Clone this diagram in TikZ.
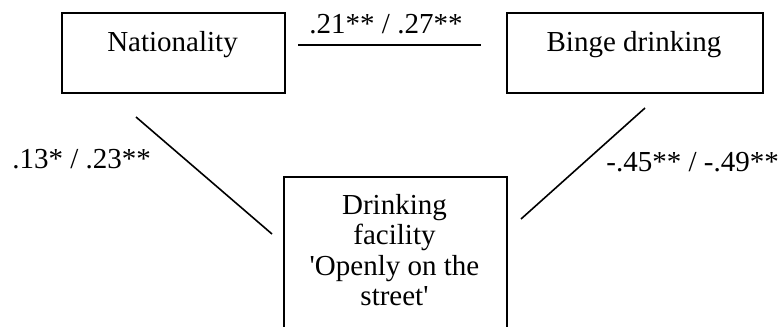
\documentclass[tikz,border=0pt]{standalone}
\usepackage{fontspec}
\setmainfont{Liberation Serif}[Ligatures=TeXOff]
\begin{document}
\begin{tikzpicture}[x=0.5pt,y=-0.5pt,
  box/.style={draw, line width=0.8pt, inner sep=0pt, anchor=north west},
  txt/.style={font=\fontsize{14.5}{15.2}\selectfont, inner sep=0pt},
  conn/.style={line width=0.8pt}]
\useasboundingbox (0,0) rectangle (780,326);
\begin{scope}
\clip (0,0) rectangle (780,326);
\node[box, minimum width=111.5pt, minimum height=40pt] (nat) at (61,12) {};
\node[box, minimum width=128pt, minimum height=40pt] (binge) at (506,12) {};
\node[box, minimum width=111.5pt, minimum height=80pt] (fac) at (283,176) {};
\end{scope}
\node[txt, anchor=base] (natt) at (172.5,52) {Nationality};
\node[txt, anchor=base] (bingt) at (634,52) {Binge drinking};
\node[txt, anchor=north, align=center] (fact) at (394.5,194) {Drinking\\facility\\'Openly on the\\street'};
% connectors
\coordinate (t1) at (298,45);
\coordinate (t2) at (481,45);
\coordinate (l1) at (136,117);
\coordinate (l2) at (272,234);
\coordinate (r1) at (645,108);
\coordinate (r2) at (521,219);
\draw[conn] (t1) -- (t2);
\draw[conn] (l1) -- (l2);
\draw[conn] (r1) -- (r2);
% labels
\node[txt, anchor=base] (lt) at (386,34) {.21** / .27**};
\node[txt, anchor=base west] (ll) at (12,168) {.13* / .23**};
\node[txt, anchor=base west] (lr) at (606,171) {-.45** / -.49**};
\end{tikzpicture}
\end{document}
